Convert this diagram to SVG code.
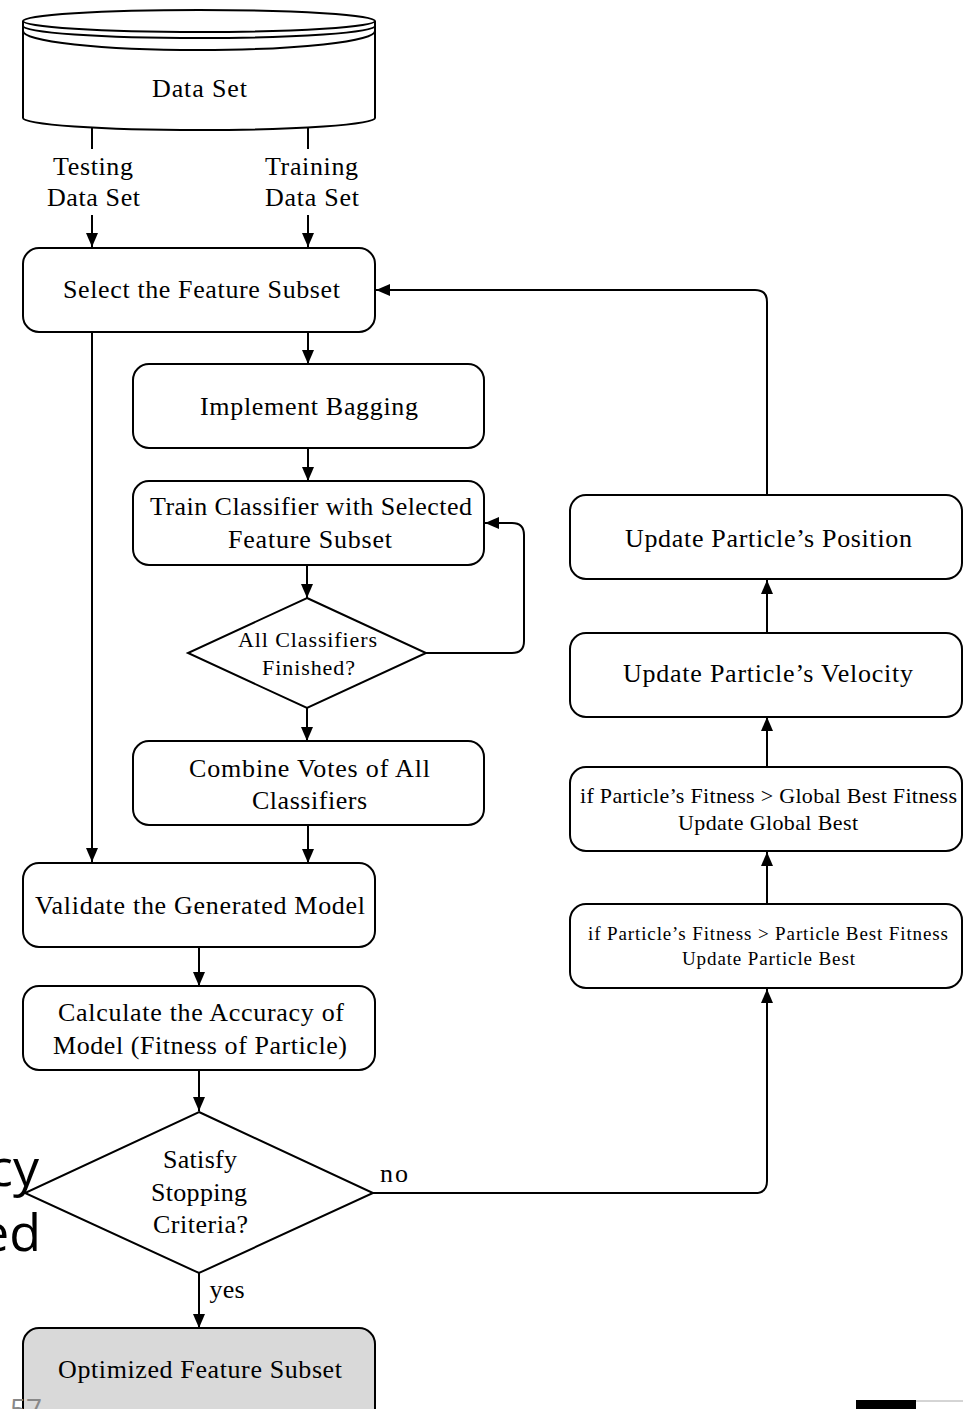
<svg xmlns="http://www.w3.org/2000/svg" width="963" height="1409" viewBox="0 0 963 1409">
<style>
.box{fill:#fff;stroke:#000;stroke-width:2}
.t{font-family:"Liberation Serif","Times New Roman",serif;font-size:26px;fill:#000;text-anchor:middle}
.s{font-size:22px}
.xs{font-size:19px}
.c{fill:none;stroke:#000;stroke-width:2}
.slide{font-family:"Open Sans","Noto Sans",sans-serif;fill:#000}
</style>
<defs>
<marker id="ah" markerWidth="14" markerHeight="14" refX="14" refY="7" orient="auto" markerUnits="userSpaceOnUse">
<path d="M0,1 L14,7 L0,13 z" fill="#000"/>
</marker>
</defs>
<rect width="963" height="1409" fill="#fff"/>
<!-- slide artifacts -->
<text class="slide" x="39" y="1186" font-size="52" text-anchor="end">cy</text>
<text class="slide" x="41" y="1251" font-size="52" text-anchor="end">ed</text>
<g id="node-dataset">
<path class="box" d="M23,21 V118 A176,12 0 0 0 375,118 V21"/>
<ellipse class="box" cx="199" cy="21" rx="176" ry="11"/>
<path class="c" d="M23,26 A176,12 0 0 0 375,26"/>
<path class="c" d="M23,31 A176,19 0 0 0 375,31"/>
<text class="t" x="199.5" y="97" textLength="95" lengthAdjust="spacing">Data Set</text>
</g>
<g id="connectors">
<path class="c" d="M92,128 V149"/>
<path class="c" d="M92,215 V247" marker-end="url(#ah)"/>
<path class="c" d="M308,128 V149"/>
<path class="c" d="M308,215 V247" marker-end="url(#ah)"/>
<path class="c" d="M92,332 V862" marker-end="url(#ah)"/>
<path class="c" d="M308,332 V364" marker-end="url(#ah)"/>
<path class="c" d="M308,448 V481" marker-end="url(#ah)"/>
<path class="c" d="M307,565 V598" marker-end="url(#ah)"/>
<path class="c" d="M426,653 H512 Q524,653 524,641 V535 Q524,523 512,523 H485" marker-end="url(#ah)"/>
<path class="c" d="M307,708 V741" marker-end="url(#ah)"/>
<path class="c" d="M308,825 V863" marker-end="url(#ah)"/>
<path class="c" d="M199,947 V986" marker-end="url(#ah)"/>
<path class="c" d="M199,1070 V1111" marker-end="url(#ah)"/>
<path class="c" d="M199,1273 V1328" marker-end="url(#ah)"/>
<path class="c" d="M373,1193 H755 Q767,1193 767,1181 V989" marker-end="url(#ah)"/>
<path class="c" d="M767,904 V852" marker-end="url(#ah)"/>
<path class="c" d="M767,767 V717" marker-end="url(#ah)"/>
<path class="c" d="M767,633 V580" marker-end="url(#ah)"/>
<path class="c" d="M767,495 V302 Q767,290 755,290 H376" marker-end="url(#ah)"/>
<text class="t" x="93" y="175" textLength="80" lengthAdjust="spacing">Testing</text>
<text class="t" x="93.5" y="206" textLength="93" lengthAdjust="spacing">Data Set</text>
<text class="t" x="311.5" y="175" textLength="93" lengthAdjust="spacing">Training</text>
<text class="t" x="312" y="206" textLength="94" lengthAdjust="spacing">Data Set</text>
<text class="t" x="394" y="1182" textLength="28" lengthAdjust="spacing">no</text>
<text class="t" x="227" y="1298" textLength="35" lengthAdjust="spacing">yes</text>
</g>
<g id="node-select">
<rect class="box" x="23" y="248" width="352" height="84" rx="16"/>
<text class="t" x="201.5" y="298" textLength="277" lengthAdjust="spacing">Select the Feature Subset</text>
</g>
<g id="node-bagging">
<rect class="box" x="133" y="364" width="351" height="84" rx="16"/>
<text class="t" x="309" y="415" textLength="218" lengthAdjust="spacing">Implement Bagging</text>
</g>
<g id="node-train">
<rect class="box" x="133" y="481" width="351" height="84" rx="16"/>
<text class="t" x="311" y="515" textLength="322" lengthAdjust="spacing">Train Classifier with Selected</text>
<text class="t" x="310" y="548" textLength="164" lengthAdjust="spacing">Feature Subset</text>
</g>
<g id="node-finished">
<polygon class="box" points="307,598 426,653 307,708 188,653"/>
<text class="t s" x="307.5" y="647" textLength="139" lengthAdjust="spacing">All Classifiers</text>
<text class="t s" x="308.5" y="675" textLength="93" lengthAdjust="spacing">Finished?</text>
</g>
<g id="node-combine">
<rect class="box" x="133" y="741" width="351" height="84" rx="16"/>
<text class="t" x="309.5" y="777" textLength="241" lengthAdjust="spacing">Combine Votes of All</text>
<text class="t" x="309.5" y="809" textLength="115" lengthAdjust="spacing">Classifiers</text>
</g>
<g id="node-validate">
<rect class="box" x="23" y="863" width="352" height="84" rx="16"/>
<text class="t" x="200" y="914" textLength="330" lengthAdjust="spacing">Validate the Generated Model</text>
</g>
<g id="node-accuracy">
<rect class="box" x="23" y="986" width="352" height="84" rx="16"/>
<text class="t" x="201" y="1021" textLength="286" lengthAdjust="spacing">Calculate the Accuracy of</text>
<text class="t" x="200" y="1054" textLength="294" lengthAdjust="spacing">Model (Fitness of Particle)</text>
</g>
<g id="node-stop">
<polygon class="box" points="199,1112 373,1193 199,1273 25,1193"/>
<text class="t" x="200" y="1168" textLength="74" lengthAdjust="spacing">Satisfy</text>
<text class="t" x="199" y="1201" textLength="96" lengthAdjust="spacing">Stopping</text>
<text class="t" x="200.5" y="1233" textLength="95" lengthAdjust="spacing">Criteria?</text>
</g>
<g id="node-optimized">
<rect x="23" y="1328" width="352" height="100" rx="16" fill="#d9d9d9" stroke="#000" stroke-width="2"/>
<text class="t" x="200" y="1378" textLength="284" lengthAdjust="spacing">Optimized Feature Subset</text>
</g>
<g id="node-position">
<rect class="box" x="570" y="495" width="392" height="84" rx="16"/>
<text class="t" x="768.5" y="547" textLength="287" lengthAdjust="spacing">Update Particle’s Position</text>
</g>
<g id="node-velocity">
<rect class="box" x="570" y="633" width="392" height="84" rx="16"/>
<text class="t" x="768" y="682" textLength="290" lengthAdjust="spacing">Update Particle’s Velocity</text>
</g>
<g id="node-global">
<rect class="box" x="570" y="767" width="392" height="84" rx="16"/>
<text class="t s" x="768.5" y="803" textLength="377" lengthAdjust="spacing">if Particle’s Fitness &gt; Global Best Fitness</text>
<text class="t s" x="768" y="830" textLength="180" lengthAdjust="spacing">Update Global Best</text>
</g>
<g id="node-pbest">
<rect class="box" x="570" y="904" width="392" height="84" rx="16"/>
<text class="t xs" x="768" y="940" textLength="360" lengthAdjust="spacing">if Particle’s Fitness &gt; Particle Best Fitness</text>
<text class="t xs" x="768.5" y="965" textLength="173" lengthAdjust="spacing">Update Particle Best</text>
</g>
<!-- slide artifacts -->
<text class="slide" x="10" y="1419" font-size="28" style="fill:#888">57</text>
<rect x="856" y="1400" width="60" height="9" fill="#000"/>
<line x1="916" y1="1401" x2="963" y2="1401" stroke="#aaa" stroke-width="1"/>
</svg>
